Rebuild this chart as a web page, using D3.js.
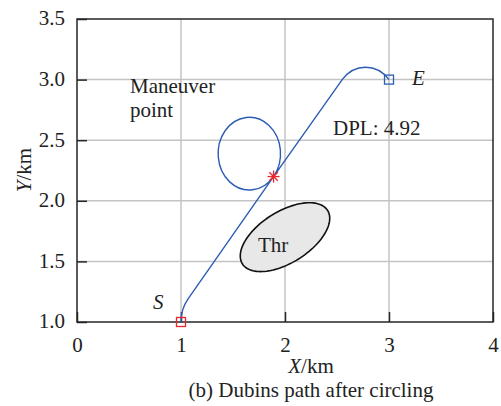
<!DOCTYPE html>
<html>
<head>
<meta charset="utf-8">
<script src="https://cdn.jsdelivr.net/npm/d3@7"></script>
<style>
   body { margin: 0; background: #fff; }
   text { font-family: "Liberation Serif", "Times New Roman", "DejaVu Serif", serif; fill: #222; }
</style>
</head>
<body>
<div id="mainChart"></div>
<script>
// Axis ticks
const xTicks = [0, 1, 2, 3, 4]
const yTicks = [1.0, 1.5, 2.0, 2.5, 3.0, 3.5]

// Path key points: S, end of first turn, maneuver point, start of last turn, E
const pathX = [1.00, 1.068, 1.89, 2.55, 3.00]
const pathY = [1.00, 1.190, 2.20, 3.00, 3.00]
const turnRadius = 0.30
const loopCenter = [1.657, 2.389]

// Threat ellipse: centre and two semi-axis vectors (km)
const threatCenter = [2.0, 1.70]
const threatAxisU = [0.41, 0.22]
const threatAxisV = [-0.13, 0.18]

const dplValue = 4.92

let margin = { top: 19, right: 8, bottom: 84, left: 77 }
let width = 501 - margin.left - margin.right
let height = 406 - margin.top - margin.bottom

let svg = d3.select("#mainChart").append("svg")
   .attr("width", 501)
   .attr("height", 406)

let g = svg.append("g")
   .attr("transform", "translate(" + margin.left + "," + margin.top + ")")

let x = d3.scaleLinear().domain([0, 4]).range([0, width])
let y = d3.scaleLinear().domain([1, 3.5]).range([height, 0])

// grid
g.selectAll("line.gx").data(xTicks.slice(1, -1))
   .join("line")
   .attr("x1", d => x(d)).attr("x2", d => x(d))
   .attr("y1", 0).attr("y2", height)
   .attr("stroke", "#c4c4c4").attr("stroke-width", 1.5)

g.selectAll("line.gy").data(yTicks.slice(1, -1))
   .join("line")
   .attr("y1", d => y(d)).attr("y2", d => y(d))
   .attr("x1", 0).attr("x2", width)
   .attr("stroke", "#c4c4c4").attr("stroke-width", 1.5)

// axes
let xAxis = d3.axisBottom(x).tickValues(xTicks).tickSize(-10).tickPadding(14).tickFormat(d3.format("d"))
let yAxis = d3.axisLeft(y).tickValues(yTicks).tickSize(-10).tickPadding(12).tickFormat(d3.format(".1f"))

let xg = g.append("g").attr("transform", "translate(0," + height + ")").call(xAxis)
let yg = g.append("g").call(yAxis)

;[xg, yg].forEach(a => {
   a.attr("font-family", null)
   a.select(".domain").remove()
   a.selectAll("line").attr("stroke", "#262626").attr("stroke-width", 1.5)
   a.selectAll("text").attr("font-size", 21).attr("fill", "#222")
})
yg.selectAll("text").attr("dy", "0.28em")
xg.selectAll("text").attr("dy", "0.75em")

// box
g.append("rect")
   .attr("width", width).attr("height", height)
   .attr("fill", "none").attr("stroke", "#262626").attr("stroke-width", 1.5)

// threat ellipse
let tSteps = d3.range(0, 2 * Math.PI, Math.PI / 60)
let ellipseLine = d3.line()
   .x(t => x(threatCenter[0] + threatAxisU[0] * Math.cos(t) + threatAxisV[0] * Math.sin(t)))
   .y(t => y(threatCenter[1] + threatAxisU[1] * Math.cos(t) + threatAxisV[1] * Math.sin(t)))
   .curve(d3.curveLinearClosed)

g.append("path")
   .attr("d", ellipseLine(tSteps))
   .attr("fill", "#e8e8e8")
   .attr("stroke", "#111")
   .attr("stroke-width", 1.6)

g.append("text")
   .attr("x", x(threatCenter[0]) - 27).attr("y", y(threatCenter[1]) + 15)
   .attr("font-size", 21).text("Thr")

// Dubins path
let rx = x(turnRadius) - x(0)
let ry = y(0) - y(turnRadius)
// loop radius taken from the maneuver point so both half arcs share one centre
let loopR = Math.hypot(pathX[2] - loopCenter[0], pathY[2] - loopCenter[1])
let lrx = x(loopR) - x(0)
let lry = y(0) - y(loopR)
let anti = [2 * loopCenter[0] - pathX[2], 2 * loopCenter[1] - pathY[2]]
let P = pathX.map((d, i) => [x(d), y(pathY[i])])

let pd = "M" + P[0] +
   "A" + rx + "," + ry + " 0 0 1 " + P[1] +
   "L" + P[2] +
   "A" + lrx + "," + lry + " 0 0 0 " + [x(anti[0]), y(anti[1])] +
   "A" + lrx + "," + lry + " 0 0 0 " + P[2] +
   "L" + P[3] +
   "A" + rx + "," + ry + " 0 0 1 " + P[4]

g.append("path")
   .attr("d", pd)
   .attr("fill", "none")
   .attr("stroke", "#2d5db3")
   .attr("stroke-width", 1.4)

// start / end markers
g.append("rect")
   .attr("x", P[0][0] - 4.5).attr("y", P[0][1] - 4.5)
   .attr("width", 9).attr("height", 9)
   .attr("fill", "none").attr("stroke", "#e8262c").attr("stroke-width", 1.3)

g.append("rect")
   .attr("x", P[4][0] - 4.5).attr("y", P[4][1] - 4.5)
   .attr("width", 9).attr("height", 9)
   .attr("fill", "none").attr("stroke", "#2d5db3").attr("stroke-width", 1.3)

// maneuver point asterisk
let star = g.append("g").attr("transform", "translate(" + P[2] + ")")
;[0, 45, 90, 135].forEach(a => {
   let r = 6, rad = a * Math.PI / 180
   star.append("line")
      .attr("x1", -r * Math.cos(rad)).attr("y1", -r * Math.sin(rad))
      .attr("x2", r * Math.cos(rad)).attr("y2", r * Math.sin(rad))
      .attr("stroke", "#e8262c").attr("stroke-width", 1.3)
})

// labels
g.append("text").attr("x", P[0][0] - 28).attr("y", P[0][1] - 13)
   .attr("font-size", 21).attr("font-style", "italic").text("S")
g.append("text").attr("x", P[4][0] + 23).attr("y", P[4][1] + 5)
   .attr("font-size", 21).attr("font-style", "italic").text("E")

g.append("text").attr("x", 53).attr("y", 74).attr("font-size", 21).text("Maneuver")
g.append("text").attr("x", 53).attr("y", 98).attr("font-size", 21).text("point")
g.append("text").attr("x", 256).attr("y", 116).attr("font-size", 21).text("DPL: " + dplValue.toFixed(2))

// axis titles
let xt = svg.append("text").attr("x", 311).attr("y", 373).attr("text-anchor", "middle").attr("font-size", 21)
xt.append("tspan").attr("font-style", "italic").text("X")
xt.append("tspan").text("/km")

let yt = svg.append("text").attr("transform", "translate(31,170) rotate(-90)")
   .attr("text-anchor", "middle").attr("font-size", 21)
yt.append("tspan").attr("font-style", "italic").text("Y")
yt.append("tspan").text("/km")

svg.append("text").attr("x", 311).attr("y", 397).attr("text-anchor", "middle")
   .attr("font-size", 21).text("(b) Dubins path after circling")
</script>
</body>
</html>
